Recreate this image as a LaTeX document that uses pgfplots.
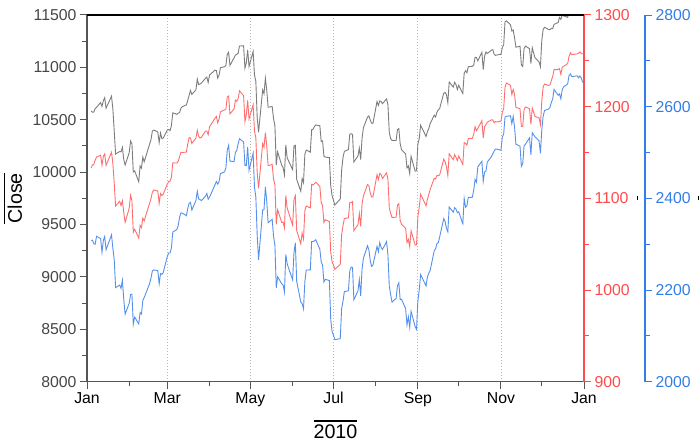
\documentclass[border=0pt]{standalone}
\usepackage{pgfplots}
\pgfplotsset{compat=1.18}
\usepackage{pgfplotstable}
\usepackage{fontspec}
\setmainfont{Liberation Sans}
\definecolor{dowc}{RGB}{125,125,125}
\definecolor{spc}{RGB}{255,110,110}
\definecolor{nqc}{RGB}{85,145,235}
\definecolor{redax}{RGB}{255,75,75}
\definecolor{blueax}{RGB}{50,125,230}
\definecolor{axgray}{RGB}{85,85,85}
\definecolor{lblgray}{RGB}{70,70,70}
\newcommand\ovl[1]{\vbox{\hrule height 1.4bp\kern 2.5bp\hbox{#1}}}
\pgfplotstableread{
d dow sp nq
3 10583.96 1132.99 2308.42
4 10572.02 1136.52 2308.71
5 10573.68 1137.14 2301.09
6 10606.86 1141.69 2300.05
7 10618.19 1144.98 2317.17
10 10663.99 1146.98 2312.41
11 10627.26 1136.22 2282.31
12 10680.77 1145.68 2307.90
13 10710.55 1148.46 2316.74
14 10609.65 1136.03 2287.99
18 10725.43 1150.23 2320.40
19 10603.15 1138.04 2291.25
20 10389.88 1116.48 2265.70
21 10172.98 1091.76 2205.29
24 10196.86 1096.78 2210.80
25 10194.29 1092.17 2203.73
26 10236.16 1097.50 2221.41
27 10120.46 1084.53 2179.00
28 10067.33 1073.87 2147.35
31 10185.53 1089.19 2171.20
32 10296.85 1103.32 2190.06
33 10270.55 1097.28 2190.91
34 10002.18 1063.11 2125.43
35 10012.23 1066.19 2141.12
38 9908.39 1056.74 2126.05
39 10058.64 1070.52 2150.87
40 10038.38 1068.13 2147.87
41 10144.19 1078.47 2177.41
42 10099.14 1075.51 2183.53
46 10268.81 1094.87 2214.19
47 10309.24 1099.51 2226.29
48 10392.90 1106.75 2241.71
49 10402.35 1109.17 2243.87
52 10383.38 1108.01 2242.03
53 10282.41 1094.60 2213.44
54 10374.16 1105.24 2235.90
55 10321.03 1102.94 2234.22
56 10325.26 1104.49 2238.26
59 10403.79 1115.71 2273.57
60 10405.98 1118.31 2280.79
61 10396.76 1118.79 2280.68
62 10444.14 1122.97 2292.31
63 10566.20 1138.70 2326.35
66 10552.52 1138.50 2332.21
67 10564.38 1140.45 2340.68
68 10567.33 1145.61 2358.95
69 10611.84 1150.24 2368.46
70 10624.69 1149.99 2367.66
73 10642.15 1150.51 2362.21
74 10685.98 1159.46 2378.01
75 10733.67 1166.21 2389.09
76 10779.17 1165.83 2391.28
77 10741.98 1159.90 2374.41
80 10785.89 1165.81 2395.40
81 10888.83 1174.17 2415.24
82 10836.15 1167.72 2398.76
83 10841.21 1165.73 2397.41
84 10850.36 1166.59 2395.13
87 10895.86 1173.22 2404.36
88 10907.42 1173.27 2410.69
89 10856.63 1169.43 2397.96
90 10927.07 1178.10 2402.58
94 10973.55 1187.44 2429.53
95 10969.99 1189.44 2436.81
96 10897.52 1182.45 2431.16
97 10927.07 1186.44 2436.81
98 10997.35 1194.37 2454.05
101 11005.97 1196.48 2457.87
102 11019.42 1197.30 2465.99
103 11123.11 1210.65 2504.86
104 11144.57 1211.67 2515.69
105 11018.66 1192.13 2481.26
108 11092.05 1197.52 2480.11
109 11117.06 1207.17 2500.31
110 11124.92 1205.94 2504.61
111 11134.29 1208.67 2519.07
112 11204.28 1217.28 2530.15
115 11205.03 1212.05 2522.95
116 10991.99 1183.71 2471.47
117 11045.27 1191.36 2471.73
118 11167.32 1206.78 2511.92
119 11008.61 1186.69 2461.19
122 11151.83 1202.26 2498.74
123 10926.77 1173.60 2424.25
124 10868.12 1165.87 2402.29
125 10520.32 1128.15 2319.64
126 10380.43 1110.88 2265.64
129 10785.14 1159.73 2374.67
130 10748.26 1155.79 2375.31
131 10896.91 1171.67 2425.02
132 10782.95 1157.44 2394.36
133 10620.16 1135.68 2346.85
136 10625.83 1136.94 2354.23
137 10510.95 1120.80 2317.26
138 10444.37 1115.05 2298.37
139 10068.01 1071.59 2204.01
140 10193.39 1087.69 2229.04
143 10066.57 1073.65 2213.55
144 10043.75 1074.03 2210.95
145 9974.45 1067.95 2195.88
146 10258.99 1103.06 2277.68
147 10136.63 1089.41 2257.04
151 10024.02 1070.71 2222.33
152 10249.54 1098.38 2281.07
153 10255.28 1102.83 2303.03
154 9931.97 1064.88 2219.17
157 9816.49 1050.47 2173.90
158 9939.98 1062.00 2170.57
159 9899.25 1055.69 2158.85
160 10172.53 1086.84 2218.71
161 10211.07 1091.60 2243.60
164 10190.89 1089.63 2243.94
165 10404.77 1115.23 2305.93
166 10409.46 1114.61 2305.88
167 10434.17 1116.04 2307.16
168 10450.64 1117.51 2309.80
171 10442.41 1113.20 2289.09
172 10293.52 1095.31 2261.80
173 10298.44 1092.04 2254.23
174 10152.80 1073.69 2217.42
175 10143.81 1076.76 2223.48
178 10138.52 1074.57 2220.65
179 9870.30 1041.24 2135.18
180 9774.02 1030.71 2109.24
181 9732.53 1027.37 2101.36
182 9686.48 1022.58 2091.79
186 9743.62 1028.06 2093.88
187 10018.28 1060.27 2159.47
188 10138.99 1070.25 2175.40
189 10198.03 1077.96 2196.45
192 10216.27 1078.75 2198.36
193 10363.02 1095.34 2242.03
194 10366.72 1095.17 2249.84
195 10359.31 1096.48 2249.08
196 10097.90 1064.88 2179.05
199 10154.43 1071.25 2198.23
200 10229.96 1083.48 2222.49
201 10120.53 1069.59 2187.33
202 10322.30 1093.67 2245.89
203 10424.62 1102.66 2269.47
206 10525.43 1115.01 2296.43
207 10537.69 1113.84 2288.25
208 10497.88 1106.13 2264.56
209 10467.16 1101.53 2251.69
210 10465.94 1101.60 2254.70
213 10674.38 1125.86 2295.36
214 10636.38 1120.46 2283.52
215 10680.43 1127.24 2303.57
216 10674.98 1125.81 2293.06
217 10653.56 1121.64 2288.47
220 10698.75 1127.79 2305.69
221 10644.25 1121.06 2277.17
222 10378.83 1089.47 2208.63
223 10319.95 1083.61 2190.27
224 10303.15 1079.25 2173.48
227 10302.01 1079.38 2181.87
228 10405.85 1092.54 2209.44
229 10415.54 1094.16 2215.70
230 10271.21 1075.63 2178.95
231 10213.62 1071.69 2179.76
234 10174.41 1067.36 2159.63
235 10040.45 1051.87 2123.76
236 10060.06 1055.33 2141.54
237 9985.81 1047.22 2118.69
238 10150.65 1064.59 2153.63
241 10009.73 1048.92 2119.97
242 10014.72 1049.33 2114.03
243 10269.47 1080.29 2176.84
244 10320.10 1090.10 2200.01
245 10447.93 1104.51 2233.75
249 10340.69 1091.84 2208.89
250 10387.01 1098.87 2228.87
251 10415.24 1104.18 2236.20
252 10462.77 1109.55 2242.48
255 10544.13 1121.90 2285.71
256 10526.49 1121.10 2289.77
257 10572.73 1125.07 2301.32
258 10594.83 1124.66 2303.25
259 10607.85 1125.59 2315.61
262 10753.62 1142.71 2355.83
263 10761.03 1139.78 2349.35
264 10739.31 1134.28 2334.55
265 10662.42 1124.83 2327.08
266 10860.26 1148.67 2381.22
269 10812.04 1142.16 2369.77
270 10858.14 1147.70 2379.59
271 10835.28 1144.73 2376.56
272 10788.05 1141.20 2368.62
273 10829.68 1146.24 2370.75
276 10751.27 1137.03 2344.52
277 10944.72 1160.75 2399.83
278 10967.65 1159.97 2380.66
279 10948.58 1158.06 2383.67
280 11006.48 1165.15 2401.91
283 11010.34 1165.32 2402.33
284 11020.40 1169.77 2417.92
285 11096.08 1178.10 2441.23
286 11094.57 1173.81 2435.38
287 11062.78 1176.19 2468.77
290 11143.69 1184.71 2480.66
291 10978.62 1165.90 2436.95
292 11107.97 1178.17 2457.39
293 11146.57 1180.26 2459.67
294 11132.56 1183.08 2479.39
297 11164.05 1185.62 2490.85
298 11169.46 1185.64 2497.29
299 11126.28 1182.45 2503.26
300 11113.95 1183.78 2507.37
301 11118.49 1183.26 2507.41
304 11124.62 1184.38 2504.84
305 11188.72 1193.57 2533.52
306 11215.13 1197.96 2540.27
307 11434.84 1221.06 2577.34
308 11444.08 1225.85 2578.98
311 11406.84 1223.25 2580.05
312 11346.75 1213.40 2562.98
313 11357.04 1218.71 2578.78
314 11283.10 1213.54 2555.52
315 11192.58 1199.21 2518.21
318 11201.97 1197.75 2513.82
319 11023.50 1178.34 2469.84
320 11007.88 1178.59 2476.01
321 11181.23 1196.69 2514.40
322 11203.55 1199.73 2518.12
325 11178.58 1197.84 2532.02
326 11036.37 1180.73 2494.95
327 11187.28 1198.35 2543.12
329 11092.00 1189.40 2534.56
332 11052.49 1187.76 2525.22
333 11006.02 1180.55 2498.23
334 11255.78 1206.07 2549.43
335 11362.41 1221.53 2579.35
336 11382.09 1224.71 2591.46
339 11362.19 1223.12 2594.92
340 11359.16 1223.75 2598.49
341 11372.48 1228.28 2609.16
342 11370.06 1233.00 2616.67
343 11410.32 1240.40 2637.54
346 11428.56 1240.46 2624.91
347 11476.54 1241.59 2627.72
348 11457.47 1235.23 2617.22
349 11499.25 1242.87 2637.31
350 11491.91 1243.91 2642.97
353 11478.13 1247.08 2649.56
354 11533.16 1254.60 2667.61
355 11559.49 1258.84 2671.48
356 11573.49 1256.77 2665.60
360 11555.03 1257.54 2667.27
361 11575.54 1258.51 2662.88
362 11585.38 1259.78 2666.93
363 11569.71 1257.88 2662.98
364 11577.51 1257.64 2652.87
}\data
\pgfplotsset{
  common/.style={
    at={(87bp,63.3bp)}, anchor=south west, scale only axis,
    width=497bp, height=366.7bp, xmin=0, xmax=365,
    tick align=outside, major tick length=7bp, minor tick length=4.5bp,
    axis line style={-, line width=1.2bp},
    every tick/.append style={line width=1bp},
    tick label style={font=\fontsize{15.8bp}{18bp}\selectfont},
    scaled y ticks=false, scaled x ticks=false,
    /pgf/number format/1000 sep={}, /pgf/number format/assume math mode=true,
    label style={font=\fontsize{19.7bp}{22bp}\selectfont},
  },
}
\begin{document}
\begin{tikzpicture}
\begin{axis}[common, name=main,
  ymin=8000, ymax=11500,
  axis x line*=bottom, axis y line*=left,
  xtick={0,59,120,181,243,304,365}, xticklabels={Jan,Mar,May,Jul,Sep,Nov,Jan},
  minor xtick={31,90,151,212,273,334},
  ytick={8000,8500,...,11500}, minor ytick={8250,8750,...,11250},
  xmajorgrids, grid style={gray!55, line width=0.8bp, dash pattern=on 1bp off 2bp},
  axis line style={axgray}, every tick/.append style={axgray},
  yticklabel style={text=lblgray}, xticklabel style={text=black},
  xlabel={\ovl{2010}}, ylabel={\ovl{Close}},
  xlabel style={at={(axis description cs:0.5,0)}, anchor=base, yshift=-56.3bp},
  ylabel style={at={(axis description cs:0,0.5)}, anchor=base, yshift=65bp},
]
\addplot[dowc, line width=0.9bp] table[x=d, y=dow] {\data};
\end{axis}
\begin{axis}[common,
  ymin=900, ymax=1300, hide x axis, axis y line*=right,
  ytick={900,1000,...,1300}, minor ytick={950,1050,...,1250},
  axis line style={redax}, every tick/.append style={redax},
  yticklabel style={text=redax},
  ylabel={\rule{4bp}{1.6bp}}, ylabel style={text=black},
]
\addplot[spc, line width=0.9bp] table[x=d, y=sp] {\data};
\end{axis}
\begin{axis}[common,
  ymin=2000, ymax=2800, hide axis,
]
\addplot[nqc, line width=0.9bp] table[x=d, y=nq] {\data};
\end{axis}
\begin{axis}[common, at={(644bp,63.3bp)}, width=1bp, xmin=0, xmax=1,
  ymin=2000, ymax=2800, hide x axis, axis y line*=right,
  ytick={2000,2200,...,2800}, minor ytick={2100,2300,...,2700},
  axis line style={blueax}, every tick/.append style={blueax},
  yticklabel style={text=blueax},
  ylabel={\rule{4bp}{1.6bp}}, ylabel style={text=black},
]
\end{axis}
\draw[black, line width=1.2bp] (main.north west) -- (main.north east);
\pgfresetboundingbox
\path[use as bounding box] (0,0) rectangle (700bp,445bp);
\end{tikzpicture}
\end{document}
